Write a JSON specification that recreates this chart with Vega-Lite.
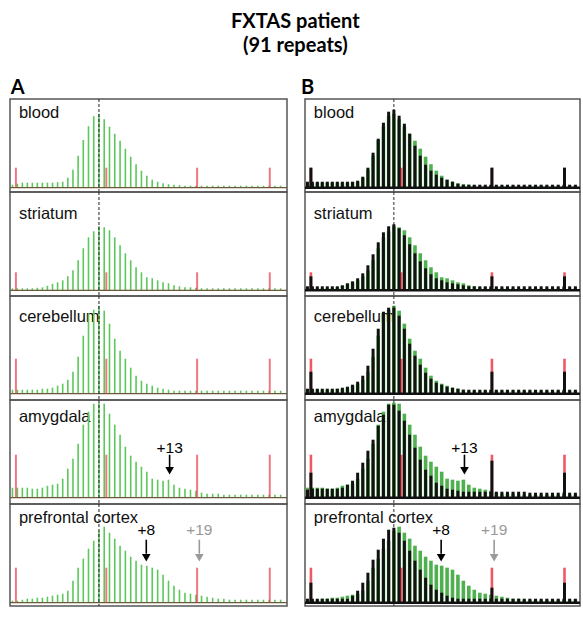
{
"$schema": "https://vega.github.io/schema/vega-lite/v6.json",
"padding": {"left": 8, "top": 11, "right": 8, "bottom": 11},
"title": {"text": ["FXTAS patient", "(91 repeats)"], "font": "Lato", "fontSize": 20, "fontWeight": "bold", "lineHeight": 24, "anchor": "middle", "offset": 22, "color": "#000"},
"config": {"view": {"stroke": "#555", "strokeWidth": 1.5}, "concat": {"spacing": 0}, "text": {"font": "Liberation Sans"}},
"datasets": {
"mode": [{"r": 91, "h": 0}],
"green": [
{"r":74,"blood":3,"striatum":2,"cerebellum":4,"amygdala":10,"prefrontal":2},
{"r":75,"blood":4,"striatum":2,"cerebellum":4,"amygdala":10,"prefrontal":2},
{"r":76,"blood":5,"striatum":2,"cerebellum":4,"amygdala":10,"prefrontal":3},
{"r":77,"blood":5,"striatum":2,"cerebellum":4,"amygdala":10,"prefrontal":4},
{"r":78,"blood":5,"striatum":2,"cerebellum":4,"amygdala":9,"prefrontal":4},
{"r":79,"blood":5,"striatum":2.5,"cerebellum":4,"amygdala":9,"prefrontal":5},
{"r":80,"blood":5,"striatum":3,"cerebellum":5,"amygdala":10,"prefrontal":5},
{"r":81,"blood":5,"striatum":4.5,"cerebellum":5,"amygdala":12,"prefrontal":6},
{"r":82,"blood":5,"striatum":6.5,"cerebellum":6,"amygdala":13,"prefrontal":7},
{"r":83,"blood":5.5,"striatum":8,"cerebellum":8,"amygdala":14,"prefrontal":8},
{"r":84,"blood":6,"striatum":10,"cerebellum":10,"amygdala":19,"prefrontal":9},
{"r":85,"blood":10,"striatum":14,"cerebellum":14,"amygdala":29,"prefrontal":12},
{"r":86,"blood":18,"striatum":20,"cerebellum":22,"amygdala":39,"prefrontal":22},
{"r":87,"blood":32,"striatum":30,"cerebellum":37,"amygdala":54,"prefrontal":35},
{"r":88,"blood":47.7,"striatum":42,"cerebellum":58,"amygdala":73,"prefrontal":44},
{"r":89,"blood":61.5,"striatum":53,"cerebellum":80,"amygdala":86,"prefrontal":54},
{"r":90,"blood":71.5,"striatum":59,"cerebellum":84,"amygdala":94,"prefrontal":62},
{"r":91,"blood":74,"striatum":64,"cerebellum":88,"amygdala":95,"prefrontal":72},
{"r":92,"blood":68.5,"striatum":63,"cerebellum":83,"amygdala":94,"prefrontal":76},
{"r":93,"blood":61,"striatum":60,"cerebellum":70,"amygdala":84,"prefrontal":70},
{"r":94,"blood":54,"striatum":53,"cerebellum":55,"amygdala":73,"prefrontal":64},
{"r":95,"blood":47,"striatum":45,"cerebellum":43,"amygdala":63,"prefrontal":57},
{"r":96,"blood":39,"striatum":37,"cerebellum":35,"amygdala":51,"prefrontal":52},
{"r":97,"blood":31,"striatum":30,"cerebellum":26,"amygdala":42,"prefrontal":46},
{"r":98,"blood":23.5,"striatum":23,"cerebellum":18,"amygdala":36,"prefrontal":42},
{"r":99,"blood":17,"striatum":18,"cerebellum":13,"amygdala":31,"prefrontal":38},
{"r":100,"blood":12,"striatum":13,"cerebellum":10,"amygdala":26,"prefrontal":37},
{"r":101,"blood":8,"striatum":12,"cerebellum":8,"amygdala":19,"prefrontal":35},
{"r":102,"blood":6,"striatum":10,"cerebellum":6,"amygdala":18,"prefrontal":33},
{"r":103,"blood":4.5,"striatum":8,"cerebellum":5,"amygdala":17,"prefrontal":28},
{"r":104,"blood":3.5,"striatum":7,"cerebellum":4,"amygdala":18,"prefrontal":22},
{"r":105,"blood":3,"striatum":5,"cerebellum":3,"amygdala":13,"prefrontal":17},
{"r":106,"blood":2.5,"striatum":4,"cerebellum":3,"amygdala":10,"prefrontal":13},
{"r":107,"blood":2,"striatum":3,"cerebellum":3,"amygdala":9,"prefrontal":10},
{"r":108,"blood":2,"striatum":3,"cerebellum":3,"amygdala":8,"prefrontal":9},
{"r":109,"blood":2,"striatum":2.5,"cerebellum":3,"amygdala":7,"prefrontal":8},
{"r":110,"blood":2,"striatum":2,"cerebellum":3,"amygdala":5,"prefrontal":7},
{"r":111,"blood":2,"striatum":2,"cerebellum":3,"amygdala":4,"prefrontal":6},
{"r":112,"blood":2,"striatum":2,"cerebellum":3,"amygdala":4,"prefrontal":5},
{"r":113,"blood":2,"striatum":2,"cerebellum":3,"amygdala":4,"prefrontal":4},
{"r":114,"blood":2,"striatum":2,"cerebellum":3,"amygdala":3,"prefrontal":4},
{"r":115,"blood":2,"striatum":2,"cerebellum":3,"amygdala":3,"prefrontal":3},
{"r":116,"blood":2,"striatum":2,"cerebellum":3,"amygdala":3,"prefrontal":3},
{"r":117,"blood":2,"striatum":2,"cerebellum":3,"amygdala":3,"prefrontal":3},
{"r":118,"blood":2,"striatum":2,"cerebellum":3,"amygdala":3,"prefrontal":3},
{"r":119,"blood":2,"striatum":2,"cerebellum":3,"amygdala":3,"prefrontal":3},
{"r":120,"blood":2,"striatum":2,"cerebellum":3,"amygdala":3,"prefrontal":3},
{"r":121,"blood":2,"striatum":2,"cerebellum":3,"amygdala":3,"prefrontal":3},
{"r":122,"blood":2,"striatum":2,"cerebellum":3,"amygdala":3,"prefrontal":3},
{"r":123,"blood":2,"striatum":2,"cerebellum":3,"amygdala":3,"prefrontal":3},
{"r":124,"blood":2,"striatum":2,"cerebellum":3,"amygdala":3,"prefrontal":3}
],
"black": [
{"r":74,"blood":6,"striatum":4,"cerebellum":5,"amygdala":8,"prefrontal":4},
{"r":75,"blood":6,"striatum":4,"cerebellum":5,"amygdala":9,"prefrontal":4},
{"r":76,"blood":6,"striatum":4,"cerebellum":5,"amygdala":9,"prefrontal":4},
{"r":77,"blood":6,"striatum":4,"cerebellum":5,"amygdala":9,"prefrontal":4},
{"r":78,"blood":6,"striatum":4,"cerebellum":5,"amygdala":9,"prefrontal":4},
{"r":79,"blood":6,"striatum":4,"cerebellum":5,"amygdala":9,"prefrontal":4},
{"r":80,"blood":6,"striatum":4,"cerebellum":5,"amygdala":9,"prefrontal":4},
{"r":81,"blood":6,"striatum":5,"cerebellum":6,"amygdala":10,"prefrontal":4},
{"r":82,"blood":6,"striatum":7,"cerebellum":7,"amygdala":13,"prefrontal":4},
{"r":83,"blood":6,"striatum":9,"cerebellum":9,"amygdala":17,"prefrontal":7},
{"r":84,"blood":7,"striatum":12,"cerebellum":12,"amygdala":25,"prefrontal":12},
{"r":85,"blood":11,"striatum":17,"cerebellum":18,"amygdala":35,"prefrontal":20},
{"r":86,"blood":20,"striatum":25,"cerebellum":28,"amygdala":47,"prefrontal":30},
{"r":87,"blood":35,"striatum":36,"cerebellum":45,"amygdala":58,"prefrontal":43},
{"r":88,"blood":49,"striatum":48,"cerebellum":65,"amygdala":72,"prefrontal":53},
{"r":89,"blood":65,"striatum":58,"cerebellum":82,"amygdala":83,"prefrontal":64},
{"r":90,"blood":76,"striatum":64,"cerebellum":86,"amygdala":93,"prefrontal":73},
{"r":91,"blood":78,"striatum":66,"cerebellum":86,"amygdala":93,"prefrontal":75},
{"r":92,"blood":72,"striatum":62,"cerebellum":78,"amygdala":87,"prefrontal":70},
{"r":93,"blood":64,"striatum":55,"cerebellum":65,"amygdala":77,"prefrontal":62},
{"r":94,"blood":54,"striatum":46,"cerebellum":50,"amygdala":63,"prefrontal":52},
{"r":95,"blood":42,"striatum":37,"cerebellum":38,"amygdala":50,"prefrontal":42},
{"r":96,"blood":32,"striatum":29,"cerebellum":29,"amygdala":38,"prefrontal":33},
{"r":97,"blood":23,"striatum":22,"cerebellum":21,"amygdala":28,"prefrontal":25},
{"r":98,"blood":17,"striatum":16,"cerebellum":15,"amygdala":22,"prefrontal":18},
{"r":99,"blood":13,"striatum":12,"cerebellum":11,"amygdala":15,"prefrontal":13},
{"r":100,"blood":10,"striatum":10,"cerebellum":9,"amygdala":12,"prefrontal":10},
{"r":101,"blood":8,"striatum":8,"cerebellum":7,"amygdala":9,"prefrontal":7},
{"r":102,"blood":6,"striatum":7,"cerebellum":6,"amygdala":8,"prefrontal":5},
{"r":103,"blood":4,"striatum":6,"cerebellum":5,"amygdala":7,"prefrontal":4},
{"r":104,"blood":3,"striatum":5,"cerebellum":4,"amygdala":6,"prefrontal":4},
{"r":105,"blood":3,"striatum":4,"cerebellum":4,"amygdala":6,"prefrontal":4},
{"r":106,"blood":3,"striatum":4,"cerebellum":4,"amygdala":6,"prefrontal":4},
{"r":107,"blood":3,"striatum":4,"cerebellum":4,"amygdala":6,"prefrontal":4},
{"r":108,"blood":3,"striatum":4,"cerebellum":4,"amygdala":6,"prefrontal":4},
{"r":109,"blood":3,"striatum":4,"cerebellum":4,"amygdala":6,"prefrontal":4},
{"r":110,"blood":3,"striatum":4,"cerebellum":4,"amygdala":6,"prefrontal":4},
{"r":111,"blood":3,"striatum":4,"cerebellum":4,"amygdala":6,"prefrontal":4},
{"r":112,"blood":3,"striatum":4,"cerebellum":4,"amygdala":6,"prefrontal":4},
{"r":113,"blood":3,"striatum":4,"cerebellum":4,"amygdala":6,"prefrontal":4},
{"r":114,"blood":3,"striatum":4,"cerebellum":4,"amygdala":6,"prefrontal":4},
{"r":115,"blood":3,"striatum":4,"cerebellum":4,"amygdala":6,"prefrontal":4},
{"r":116,"blood":3,"striatum":4,"cerebellum":4,"amygdala":5,"prefrontal":4},
{"r":117,"blood":3,"striatum":4,"cerebellum":4,"amygdala":5,"prefrontal":4},
{"r":118,"blood":3,"striatum":4,"cerebellum":4,"amygdala":5,"prefrontal":4},
{"r":119,"blood":3,"striatum":4,"cerebellum":4,"amygdala":5,"prefrontal":4},
{"r":120,"blood":3,"striatum":4,"cerebellum":4,"amygdala":5,"prefrontal":4},
{"r":121,"blood":3,"striatum":4,"cerebellum":4,"amygdala":5,"prefrontal":4},
{"r":122,"blood":3,"striatum":4,"cerebellum":4,"amygdala":5,"prefrontal":4},
{"r":123,"blood":3,"striatum":4,"cerebellum":4,"amygdala":5,"prefrontal":4},
{"r":124,"blood":3,"striatum":4,"cerebellum":4,"amygdala":5,"prefrontal":4},
{"r":74.7,"blood":20,"striatum":14,"cerebellum":22,"amygdala":25,"prefrontal":20},
{"r":109.2,"blood":20,"striatum":14,"cerebellum":22,"amygdala":37,"prefrontal":15},
{"r":122.1,"blood":20,"striatum":14,"cerebellum":22,"amygdala":25,"prefrontal":20}
],
"std": [
{"r":74.7,"blood":20,"striatum":18,"cerebellum":35,"amygdala":43,"prefrontal":35},
{"r":92.4,"blood":20,"striatum":18,"cerebellum":35,"amygdala":43,"prefrontal":35},
{"r":109.2,"blood":20,"striatum":18,"cerebellum":35,"amygdala":43,"prefrontal":35},
{"r":122.1,"blood":20,"striatum":18,"cerebellum":35,"amygdala":43,"prefrontal":35}
],
"labels": [
{"t":"blood","label":"blood","r":75.3,"y":70},
{"t":"striatum","label":"striatum","r":75.3,"y":71.6},
{"t":"cerebellum","label":"cerebellum","r":75.3,"y":71.7},
{"t":"amygdala","label":"amygdala","r":75.3,"y":76},
{"t":"prefrontal","label":"prefrontal cortex","r":75.3,"y":79.7}
],
"arrows": [
{"t":"amygdala","r":104.2,"kind":"observed","txt":"+13","ty":44.7,"top":43,"end":29,"head":27},
{"t":"prefrontal","r":99.9,"kind":"observed","txt":"+8","ty":67.7,"top":63,"end":49,"head":45},
{"t":"prefrontal","r":109.6,"kind":"predicted","txt":"+19","ty":67.7,"top":63,"end":49,"head":45}
]
},
"spacing": 12,
"hconcat": [
{"title": {"text": "A", "anchor": "start", "font": "Lato", "fontSize": 20, "fontWeight": "bold", "offset": 0, "dx": 2, "color": "#000"},
 "bounds": "flush", "spacing": 0,
 "vconcat": [
  {"width": 277, "height": 93, "layer": [
   {"data": {"name": "labels"}, "transform": [{"filter": "datum.t == 'blood'"}], "mark": {"type": "text", "align": "left", "baseline": "alphabetic", "fontSize": 16.5, "color": "#111"}, "encoding": {"x": {"field": "r", "type": "quantitative", "scale": {"type": "pow", "exponent": 1.3, "domain": [73.5, 125.1]}, "axis": null}, "y": {"field": "y", "type": "quantitative", "scale": {"domain": [-4.3, 88.7]}, "axis": null}, "text": {"field": "label"}}},
   {"data": {"name": "green"}, "transform": [{"fold": ["blood"], "as": ["t", "h"]}], "mark": {"type": "rule", "color": "#5cc85c", "strokeWidth": 1.6}, "encoding": {"x": {"field": "r", "type": "quantitative", "scale": {"type": "pow", "exponent": 1.3, "domain": [73.5, 125.1]}, "axis": null}, "y": {"field": "h", "type": "quantitative", "scale": {"domain": [-4.3, 88.7]}, "axis": null}, "y2": {"datum": 0}}},
   {"data": {"name": "mode"}, "mark": {"type": "rule", "color": "#6b5a3a", "strokeWidth": 1.2}, "encoding": {"y": {"field": "h", "type": "quantitative", "scale": {"domain": [-4.3, 88.7]}, "axis": null}}},
   {"data": {"name": "std"}, "transform": [{"fold": ["blood"], "as": ["t", "h"]}], "mark": {"type": "rule", "color": "#e8303f", "opacity": 0.65, "strokeWidth": 2}, "encoding": {"x": {"field": "r", "type": "quantitative", "scale": {"type": "pow", "exponent": 1.3, "domain": [73.5, 125.1]}, "axis": null}, "y": {"field": "h", "type": "quantitative", "scale": {"domain": [-4.3, 88.7]}, "axis": null}, "y2": {"datum": 0}}},
   {"data": {"name": "mode"}, "mark": {"type": "rule", "color": "#222", "strokeWidth": 1, "strokeDash": [3, 2]}, "encoding": {"x": {"field": "r", "type": "quantitative", "scale": {"type": "pow", "exponent": 1.3, "domain": [73.5, 125.1]}, "axis": null}}}
  ]},
  {"width": 277, "height": 104, "layer": [
   {"data": {"name": "labels"}, "transform": [{"filter": "datum.t == 'striatum'"}], "mark": {"type": "text", "align": "left", "baseline": "alphabetic", "fontSize": 16.5, "color": "#111"}, "encoding": {"x": {"field": "r", "type": "quantitative", "scale": {"type": "pow", "exponent": 1.3, "domain": [73.5, 125.1]}, "axis": null}, "y": {"field": "y", "type": "quantitative", "scale": {"domain": [-5.7, 98.3]}, "axis": null}, "text": {"field": "label"}}},
   {"data": {"name": "green"}, "transform": [{"fold": ["striatum"], "as": ["t", "h"]}], "mark": {"type": "rule", "color": "#5cc85c", "strokeWidth": 1.6}, "encoding": {"x": {"field": "r", "type": "quantitative", "scale": {"type": "pow", "exponent": 1.3, "domain": [73.5, 125.1]}, "axis": null}, "y": {"field": "h", "type": "quantitative", "scale": {"domain": [-5.7, 98.3]}, "axis": null}, "y2": {"datum": 0}}},
   {"data": {"name": "mode"}, "mark": {"type": "rule", "color": "#6b5a3a", "strokeWidth": 1.2}, "encoding": {"y": {"field": "h", "type": "quantitative", "scale": {"domain": [-5.7, 98.3]}, "axis": null}}},
   {"data": {"name": "std"}, "transform": [{"fold": ["striatum"], "as": ["t", "h"]}], "mark": {"type": "rule", "color": "#e8303f", "opacity": 0.65, "strokeWidth": 2}, "encoding": {"x": {"field": "r", "type": "quantitative", "scale": {"type": "pow", "exponent": 1.3, "domain": [73.5, 125.1]}, "axis": null}, "y": {"field": "h", "type": "quantitative", "scale": {"domain": [-5.7, 98.3]}, "axis": null}, "y2": {"datum": 0}}},
   {"data": {"name": "mode"}, "mark": {"type": "rule", "color": "#222", "strokeWidth": 1, "strokeDash": [3, 2]}, "encoding": {"x": {"field": "r", "type": "quantitative", "scale": {"type": "pow", "exponent": 1.3, "domain": [73.5, 125.1]}, "axis": null}}}
  ]},
  {"width": 277, "height": 104, "layer": [
   {"data": {"name": "labels"}, "transform": [{"filter": "datum.t == 'cerebellum'"}], "mark": {"type": "text", "align": "left", "baseline": "alphabetic", "fontSize": 16.5, "color": "#111"}, "encoding": {"x": {"field": "r", "type": "quantitative", "scale": {"type": "pow", "exponent": 1.3, "domain": [73.5, 125.1]}, "axis": null}, "y": {"field": "y", "type": "quantitative", "scale": {"domain": [-6.3, 97.7]}, "axis": null}, "text": {"field": "label"}}},
   {"data": {"name": "green"}, "transform": [{"fold": ["cerebellum"], "as": ["t", "h"]}], "mark": {"type": "rule", "color": "#5cc85c", "strokeWidth": 1.6}, "encoding": {"x": {"field": "r", "type": "quantitative", "scale": {"type": "pow", "exponent": 1.3, "domain": [73.5, 125.1]}, "axis": null}, "y": {"field": "h", "type": "quantitative", "scale": {"domain": [-6.3, 97.7]}, "axis": null}, "y2": {"datum": 0}}},
   {"data": {"name": "mode"}, "mark": {"type": "rule", "color": "#6b5a3a", "strokeWidth": 1.2}, "encoding": {"y": {"field": "h", "type": "quantitative", "scale": {"domain": [-6.3, 97.7]}, "axis": null}}},
   {"data": {"name": "std"}, "transform": [{"fold": ["cerebellum"], "as": ["t", "h"]}], "mark": {"type": "rule", "color": "#e8303f", "opacity": 0.65, "strokeWidth": 2}, "encoding": {"x": {"field": "r", "type": "quantitative", "scale": {"type": "pow", "exponent": 1.3, "domain": [73.5, 125.1]}, "axis": null}, "y": {"field": "h", "type": "quantitative", "scale": {"domain": [-6.3, 97.7]}, "axis": null}, "y2": {"datum": 0}}},
   {"data": {"name": "mode"}, "mark": {"type": "rule", "color": "#222", "strokeWidth": 1, "strokeDash": [3, 2]}, "encoding": {"x": {"field": "r", "type": "quantitative", "scale": {"type": "pow", "exponent": 1.3, "domain": [73.5, 125.1]}, "axis": null}}}
  ]},
  {"width": 277, "height": 104, "layer": [
   {"data": {"name": "labels"}, "transform": [{"filter": "datum.t == 'amygdala'"}], "mark": {"type": "text", "align": "left", "baseline": "alphabetic", "fontSize": 16.5, "color": "#111"}, "encoding": {"x": {"field": "r", "type": "quantitative", "scale": {"type": "pow", "exponent": 1.3, "domain": [73.5, 125.1]}, "axis": null}, "y": {"field": "y", "type": "quantitative", "scale": {"domain": [-6.3, 97.7]}, "axis": null}, "text": {"field": "label"}}},
   {"data": {"name": "green"}, "transform": [{"fold": ["amygdala"], "as": ["t", "h"]}], "mark": {"type": "rule", "color": "#5cc85c", "strokeWidth": 1.6}, "encoding": {"x": {"field": "r", "type": "quantitative", "scale": {"type": "pow", "exponent": 1.3, "domain": [73.5, 125.1]}, "axis": null}, "y": {"field": "h", "type": "quantitative", "scale": {"domain": [-6.3, 97.7]}, "axis": null}, "y2": {"datum": 0}}},
   {"data": {"name": "mode"}, "mark": {"type": "rule", "color": "#6b5a3a", "strokeWidth": 1.2}, "encoding": {"y": {"field": "h", "type": "quantitative", "scale": {"domain": [-6.3, 97.7]}, "axis": null}}},
   {"data": {"name": "std"}, "transform": [{"fold": ["amygdala"], "as": ["t", "h"]}], "mark": {"type": "rule", "color": "#e8303f", "opacity": 0.65, "strokeWidth": 2}, "encoding": {"x": {"field": "r", "type": "quantitative", "scale": {"type": "pow", "exponent": 1.3, "domain": [73.5, 125.1]}, "axis": null}, "y": {"field": "h", "type": "quantitative", "scale": {"domain": [-6.3, 97.7]}, "axis": null}, "y2": {"datum": 0}}},
   {"data": {"name": "mode"}, "mark": {"type": "rule", "color": "#222", "strokeWidth": 1, "strokeDash": [3, 2]}, "encoding": {"x": {"field": "r", "type": "quantitative", "scale": {"type": "pow", "exponent": 1.3, "domain": [73.5, 125.1]}, "axis": null}}},
   {"data": {"name": "arrows"}, "transform": [{"filter": "datum.t == 'amygdala'"}], "mark": {"type": "rule", "strokeWidth": 1.6}, "encoding": {"x": {"field": "r", "type": "quantitative", "scale": {"type": "pow", "exponent": 1.3, "domain": [73.5, 125.1]}, "axis": null}, "y": {"field": "top", "type": "quantitative", "scale": {"domain": [-6.3, 97.7]}, "axis": null}, "y2": {"field": "end"}, "color": {"field": "kind", "type": "nominal", "scale": {"domain": ["observed", "predicted"], "range": ["#000000", "#999999"]}, "legend": null}}},
   {"data": {"name": "arrows"}, "transform": [{"filter": "datum.t == 'amygdala'"}], "mark": {"type": "point", "shape": "triangle-down", "filled": true, "opacity": 1, "size": 75}, "encoding": {"x": {"field": "r", "type": "quantitative", "scale": {"type": "pow", "exponent": 1.3, "domain": [73.5, 125.1]}, "axis": null}, "y": {"field": "head", "type": "quantitative", "scale": {"domain": [-6.3, 97.7]}, "axis": null}, "color": {"field": "kind", "type": "nominal", "scale": {"domain": ["observed", "predicted"], "range": ["#000000", "#999999"]}, "legend": null}}},
   {"data": {"name": "arrows"}, "transform": [{"filter": "datum.t == 'amygdala'"}], "mark": {"type": "text", "align": "center", "baseline": "alphabetic", "fontSize": 15.5}, "encoding": {"x": {"field": "r", "type": "quantitative", "scale": {"type": "pow", "exponent": 1.3, "domain": [73.5, 125.1]}, "axis": null}, "y": {"field": "ty", "type": "quantitative", "scale": {"domain": [-6.3, 97.7]}, "axis": null}, "text": {"field": "txt"}, "color": {"field": "kind", "type": "nominal", "scale": {"domain": ["observed", "predicted"], "range": ["#000000", "#999999"]}, "legend": null}}}
  ]},
  {"width": 277, "height": 102, "layer": [
   {"data": {"name": "labels"}, "transform": [{"filter": "datum.t == 'prefrontal'"}], "mark": {"type": "text", "align": "left", "baseline": "alphabetic", "fontSize": 16.5, "color": "#111"}, "encoding": {"x": {"field": "r", "type": "quantitative", "scale": {"type": "pow", "exponent": 1.3, "domain": [73.5, 125.1]}, "axis": null}, "y": {"field": "y", "type": "quantitative", "scale": {"domain": [-3.3, 98.7]}, "axis": null}, "text": {"field": "label"}}},
   {"data": {"name": "green"}, "transform": [{"fold": ["prefrontal"], "as": ["t", "h"]}], "mark": {"type": "rule", "color": "#5cc85c", "strokeWidth": 1.6}, "encoding": {"x": {"field": "r", "type": "quantitative", "scale": {"type": "pow", "exponent": 1.3, "domain": [73.5, 125.1]}, "axis": null}, "y": {"field": "h", "type": "quantitative", "scale": {"domain": [-3.3, 98.7]}, "axis": null}, "y2": {"datum": 0}}},
   {"data": {"name": "mode"}, "mark": {"type": "rule", "color": "#6b5a3a", "strokeWidth": 1.2}, "encoding": {"y": {"field": "h", "type": "quantitative", "scale": {"domain": [-3.3, 98.7]}, "axis": null}}},
   {"data": {"name": "std"}, "transform": [{"fold": ["prefrontal"], "as": ["t", "h"]}], "mark": {"type": "rule", "color": "#e8303f", "opacity": 0.65, "strokeWidth": 2}, "encoding": {"x": {"field": "r", "type": "quantitative", "scale": {"type": "pow", "exponent": 1.3, "domain": [73.5, 125.1]}, "axis": null}, "y": {"field": "h", "type": "quantitative", "scale": {"domain": [-3.3, 98.7]}, "axis": null}, "y2": {"datum": 0}}},
   {"data": {"name": "mode"}, "mark": {"type": "rule", "color": "#222", "strokeWidth": 1, "strokeDash": [3, 2]}, "encoding": {"x": {"field": "r", "type": "quantitative", "scale": {"type": "pow", "exponent": 1.3, "domain": [73.5, 125.1]}, "axis": null}}},
   {"data": {"name": "arrows"}, "transform": [{"filter": "datum.t == 'prefrontal'"}], "mark": {"type": "rule", "strokeWidth": 1.6}, "encoding": {"x": {"field": "r", "type": "quantitative", "scale": {"type": "pow", "exponent": 1.3, "domain": [73.5, 125.1]}, "axis": null}, "y": {"field": "top", "type": "quantitative", "scale": {"domain": [-3.3, 98.7]}, "axis": null}, "y2": {"field": "end"}, "color": {"field": "kind", "type": "nominal", "scale": {"domain": ["observed", "predicted"], "range": ["#000000", "#999999"]}, "legend": null}}},
   {"data": {"name": "arrows"}, "transform": [{"filter": "datum.t == 'prefrontal'"}], "mark": {"type": "point", "shape": "triangle-down", "filled": true, "opacity": 1, "size": 75}, "encoding": {"x": {"field": "r", "type": "quantitative", "scale": {"type": "pow", "exponent": 1.3, "domain": [73.5, 125.1]}, "axis": null}, "y": {"field": "head", "type": "quantitative", "scale": {"domain": [-3.3, 98.7]}, "axis": null}, "color": {"field": "kind", "type": "nominal", "scale": {"domain": ["observed", "predicted"], "range": ["#000000", "#999999"]}, "legend": null}}},
   {"data": {"name": "arrows"}, "transform": [{"filter": "datum.t == 'prefrontal'"}], "mark": {"type": "text", "align": "center", "baseline": "alphabetic", "fontSize": 15.5}, "encoding": {"x": {"field": "r", "type": "quantitative", "scale": {"type": "pow", "exponent": 1.3, "domain": [73.5, 125.1]}, "axis": null}, "y": {"field": "ty", "type": "quantitative", "scale": {"domain": [-3.3, 98.7]}, "axis": null}, "text": {"field": "txt"}, "color": {"field": "kind", "type": "nominal", "scale": {"domain": ["observed", "predicted"], "range": ["#000000", "#999999"]}, "legend": null}}}
  ]}
 ]},
{"title": {"text": "B", "anchor": "start", "font": "Lato", "fontSize": 20, "fontWeight": "bold", "offset": 0, "dx": -2, "color": "#000"},
 "bounds": "flush", "spacing": 0,
 "vconcat": [
  {"width": 275, "height": 93, "layer": [
   {"data": {"name": "labels"}, "transform": [{"filter": "datum.t == 'blood'"}], "mark": {"type": "text", "align": "left", "baseline": "alphabetic", "fontSize": 16.5, "color": "#111"}, "encoding": {"x": {"field": "r", "type": "quantitative", "scale": {"type": "pow", "exponent": 1.3, "domain": [73.5, 124.8]}, "axis": null}, "y": {"field": "y", "type": "quantitative", "scale": {"domain": [-4.3, 88.7]}, "axis": null}, "text": {"field": "label"}}},
   {"data": {"name": "green"}, "transform": [{"fold": ["blood"], "as": ["t", "h"]}], "mark": {"type": "rule", "color": "#4fb04f", "strokeWidth": 3.6}, "encoding": {"x": {"field": "r", "type": "quantitative", "scale": {"type": "pow", "exponent": 1.3, "domain": [73.5, 124.8]}, "axis": null}, "y": {"field": "h", "type": "quantitative", "scale": {"domain": [-4.3, 88.7]}, "axis": null}, "y2": {"datum": 0}}},
   {"data": {"name": "mode"}, "mark": {"type": "rule", "color": "#333", "strokeWidth": 1, "strokeDash": [3, 2]}, "encoding": {"x": {"field": "r", "type": "quantitative", "scale": {"type": "pow", "exponent": 1.3, "domain": [73.5, 124.8]}, "axis": null}}},
   {"data": {"name": "std"}, "transform": [{"fold": ["blood"], "as": ["t", "h"]}], "mark": {"type": "rule", "color": "#e8303f", "opacity": 0.8, "strokeWidth": 2.6}, "encoding": {"x": {"field": "r", "type": "quantitative", "scale": {"type": "pow", "exponent": 1.3, "domain": [73.5, 124.8]}, "axis": null}, "y": {"field": "h", "type": "quantitative", "scale": {"domain": [-4.3, 88.7]}, "axis": null}, "y2": {"datum": 0}}},
   {"data": {"name": "black"}, "transform": [{"fold": ["blood"], "as": ["t", "h"]}], "mark": {"type": "rule", "color": "#111", "strokeWidth": 3}, "encoding": {"x": {"field": "r", "type": "quantitative", "scale": {"type": "pow", "exponent": 1.3, "domain": [73.5, 124.8]}, "axis": null}, "y": {"field": "h", "type": "quantitative", "scale": {"domain": [-4.3, 88.7]}, "axis": null}, "y2": {"datum": 0}}},
   {"data": {"name": "mode"}, "mark": {"type": "rule", "color": "#111", "strokeWidth": 2.4}, "encoding": {"y": {"field": "h", "type": "quantitative", "scale": {"domain": [-4.3, 88.7]}, "axis": null}}}
  ]},
  {"width": 275, "height": 104, "layer": [
   {"data": {"name": "labels"}, "transform": [{"filter": "datum.t == 'striatum'"}], "mark": {"type": "text", "align": "left", "baseline": "alphabetic", "fontSize": 16.5, "color": "#111"}, "encoding": {"x": {"field": "r", "type": "quantitative", "scale": {"type": "pow", "exponent": 1.3, "domain": [73.5, 124.8]}, "axis": null}, "y": {"field": "y", "type": "quantitative", "scale": {"domain": [-5.7, 98.3]}, "axis": null}, "text": {"field": "label"}}},
   {"data": {"name": "green"}, "transform": [{"fold": ["striatum"], "as": ["t", "h"]}], "mark": {"type": "rule", "color": "#4fb04f", "strokeWidth": 3.6}, "encoding": {"x": {"field": "r", "type": "quantitative", "scale": {"type": "pow", "exponent": 1.3, "domain": [73.5, 124.8]}, "axis": null}, "y": {"field": "h", "type": "quantitative", "scale": {"domain": [-5.7, 98.3]}, "axis": null}, "y2": {"datum": 0}}},
   {"data": {"name": "mode"}, "mark": {"type": "rule", "color": "#333", "strokeWidth": 1, "strokeDash": [3, 2]}, "encoding": {"x": {"field": "r", "type": "quantitative", "scale": {"type": "pow", "exponent": 1.3, "domain": [73.5, 124.8]}, "axis": null}}},
   {"data": {"name": "std"}, "transform": [{"fold": ["striatum"], "as": ["t", "h"]}], "mark": {"type": "rule", "color": "#e8303f", "opacity": 0.8, "strokeWidth": 2.6}, "encoding": {"x": {"field": "r", "type": "quantitative", "scale": {"type": "pow", "exponent": 1.3, "domain": [73.5, 124.8]}, "axis": null}, "y": {"field": "h", "type": "quantitative", "scale": {"domain": [-5.7, 98.3]}, "axis": null}, "y2": {"datum": 0}}},
   {"data": {"name": "black"}, "transform": [{"fold": ["striatum"], "as": ["t", "h"]}], "mark": {"type": "rule", "color": "#111", "strokeWidth": 3}, "encoding": {"x": {"field": "r", "type": "quantitative", "scale": {"type": "pow", "exponent": 1.3, "domain": [73.5, 124.8]}, "axis": null}, "y": {"field": "h", "type": "quantitative", "scale": {"domain": [-5.7, 98.3]}, "axis": null}, "y2": {"datum": 0}}},
   {"data": {"name": "mode"}, "mark": {"type": "rule", "color": "#111", "strokeWidth": 2.4}, "encoding": {"y": {"field": "h", "type": "quantitative", "scale": {"domain": [-5.7, 98.3]}, "axis": null}}}
  ]},
  {"width": 275, "height": 104, "layer": [
   {"data": {"name": "labels"}, "transform": [{"filter": "datum.t == 'cerebellum'"}], "mark": {"type": "text", "align": "left", "baseline": "alphabetic", "fontSize": 16.5, "color": "#111"}, "encoding": {"x": {"field": "r", "type": "quantitative", "scale": {"type": "pow", "exponent": 1.3, "domain": [73.5, 124.8]}, "axis": null}, "y": {"field": "y", "type": "quantitative", "scale": {"domain": [-6.3, 97.7]}, "axis": null}, "text": {"field": "label"}}},
   {"data": {"name": "green"}, "transform": [{"fold": ["cerebellum"], "as": ["t", "h"]}], "mark": {"type": "rule", "color": "#4fb04f", "strokeWidth": 3.6}, "encoding": {"x": {"field": "r", "type": "quantitative", "scale": {"type": "pow", "exponent": 1.3, "domain": [73.5, 124.8]}, "axis": null}, "y": {"field": "h", "type": "quantitative", "scale": {"domain": [-6.3, 97.7]}, "axis": null}, "y2": {"datum": 0}}},
   {"data": {"name": "mode"}, "mark": {"type": "rule", "color": "#333", "strokeWidth": 1, "strokeDash": [3, 2]}, "encoding": {"x": {"field": "r", "type": "quantitative", "scale": {"type": "pow", "exponent": 1.3, "domain": [73.5, 124.8]}, "axis": null}}},
   {"data": {"name": "std"}, "transform": [{"fold": ["cerebellum"], "as": ["t", "h"]}], "mark": {"type": "rule", "color": "#e8303f", "opacity": 0.8, "strokeWidth": 2.6}, "encoding": {"x": {"field": "r", "type": "quantitative", "scale": {"type": "pow", "exponent": 1.3, "domain": [73.5, 124.8]}, "axis": null}, "y": {"field": "h", "type": "quantitative", "scale": {"domain": [-6.3, 97.7]}, "axis": null}, "y2": {"datum": 0}}},
   {"data": {"name": "black"}, "transform": [{"fold": ["cerebellum"], "as": ["t", "h"]}], "mark": {"type": "rule", "color": "#111", "strokeWidth": 3}, "encoding": {"x": {"field": "r", "type": "quantitative", "scale": {"type": "pow", "exponent": 1.3, "domain": [73.5, 124.8]}, "axis": null}, "y": {"field": "h", "type": "quantitative", "scale": {"domain": [-6.3, 97.7]}, "axis": null}, "y2": {"datum": 0}}},
   {"data": {"name": "mode"}, "mark": {"type": "rule", "color": "#111", "strokeWidth": 2.4}, "encoding": {"y": {"field": "h", "type": "quantitative", "scale": {"domain": [-6.3, 97.7]}, "axis": null}}}
  ]},
  {"width": 275, "height": 104, "layer": [
   {"data": {"name": "labels"}, "transform": [{"filter": "datum.t == 'amygdala'"}], "mark": {"type": "text", "align": "left", "baseline": "alphabetic", "fontSize": 16.5, "color": "#111"}, "encoding": {"x": {"field": "r", "type": "quantitative", "scale": {"type": "pow", "exponent": 1.3, "domain": [73.5, 124.8]}, "axis": null}, "y": {"field": "y", "type": "quantitative", "scale": {"domain": [-6.3, 97.7]}, "axis": null}, "text": {"field": "label"}}},
   {"data": {"name": "green"}, "transform": [{"fold": ["amygdala"], "as": ["t", "h"]}], "mark": {"type": "rule", "color": "#4fb04f", "strokeWidth": 3.6}, "encoding": {"x": {"field": "r", "type": "quantitative", "scale": {"type": "pow", "exponent": 1.3, "domain": [73.5, 124.8]}, "axis": null}, "y": {"field": "h", "type": "quantitative", "scale": {"domain": [-6.3, 97.7]}, "axis": null}, "y2": {"datum": 0}}},
   {"data": {"name": "mode"}, "mark": {"type": "rule", "color": "#333", "strokeWidth": 1, "strokeDash": [3, 2]}, "encoding": {"x": {"field": "r", "type": "quantitative", "scale": {"type": "pow", "exponent": 1.3, "domain": [73.5, 124.8]}, "axis": null}}},
   {"data": {"name": "std"}, "transform": [{"fold": ["amygdala"], "as": ["t", "h"]}], "mark": {"type": "rule", "color": "#e8303f", "opacity": 0.8, "strokeWidth": 2.6}, "encoding": {"x": {"field": "r", "type": "quantitative", "scale": {"type": "pow", "exponent": 1.3, "domain": [73.5, 124.8]}, "axis": null}, "y": {"field": "h", "type": "quantitative", "scale": {"domain": [-6.3, 97.7]}, "axis": null}, "y2": {"datum": 0}}},
   {"data": {"name": "black"}, "transform": [{"fold": ["amygdala"], "as": ["t", "h"]}], "mark": {"type": "rule", "color": "#111", "strokeWidth": 3}, "encoding": {"x": {"field": "r", "type": "quantitative", "scale": {"type": "pow", "exponent": 1.3, "domain": [73.5, 124.8]}, "axis": null}, "y": {"field": "h", "type": "quantitative", "scale": {"domain": [-6.3, 97.7]}, "axis": null}, "y2": {"datum": 0}}},
   {"data": {"name": "mode"}, "mark": {"type": "rule", "color": "#111", "strokeWidth": 2.4}, "encoding": {"y": {"field": "h", "type": "quantitative", "scale": {"domain": [-6.3, 97.7]}, "axis": null}}},
   {"data": {"name": "arrows"}, "transform": [{"filter": "datum.t == 'amygdala'"}], "mark": {"type": "rule", "strokeWidth": 1.6}, "encoding": {"x": {"field": "r", "type": "quantitative", "scale": {"type": "pow", "exponent": 1.3, "domain": [73.5, 124.8]}, "axis": null}, "y": {"field": "top", "type": "quantitative", "scale": {"domain": [-6.3, 97.7]}, "axis": null}, "y2": {"field": "end"}, "color": {"field": "kind", "type": "nominal", "scale": {"domain": ["observed", "predicted"], "range": ["#000000", "#999999"]}, "legend": null}}},
   {"data": {"name": "arrows"}, "transform": [{"filter": "datum.t == 'amygdala'"}], "mark": {"type": "point", "shape": "triangle-down", "filled": true, "opacity": 1, "size": 75}, "encoding": {"x": {"field": "r", "type": "quantitative", "scale": {"type": "pow", "exponent": 1.3, "domain": [73.5, 124.8]}, "axis": null}, "y": {"field": "head", "type": "quantitative", "scale": {"domain": [-6.3, 97.7]}, "axis": null}, "color": {"field": "kind", "type": "nominal", "scale": {"domain": ["observed", "predicted"], "range": ["#000000", "#999999"]}, "legend": null}}},
   {"data": {"name": "arrows"}, "transform": [{"filter": "datum.t == 'amygdala'"}], "mark": {"type": "text", "align": "center", "baseline": "alphabetic", "fontSize": 15.5}, "encoding": {"x": {"field": "r", "type": "quantitative", "scale": {"type": "pow", "exponent": 1.3, "domain": [73.5, 124.8]}, "axis": null}, "y": {"field": "ty", "type": "quantitative", "scale": {"domain": [-6.3, 97.7]}, "axis": null}, "text": {"field": "txt"}, "color": {"field": "kind", "type": "nominal", "scale": {"domain": ["observed", "predicted"], "range": ["#000000", "#999999"]}, "legend": null}}}
  ]},
  {"width": 275, "height": 102, "layer": [
   {"data": {"name": "labels"}, "transform": [{"filter": "datum.t == 'prefrontal'"}], "mark": {"type": "text", "align": "left", "baseline": "alphabetic", "fontSize": 16.5, "color": "#111"}, "encoding": {"x": {"field": "r", "type": "quantitative", "scale": {"type": "pow", "exponent": 1.3, "domain": [73.5, 124.8]}, "axis": null}, "y": {"field": "y", "type": "quantitative", "scale": {"domain": [-3.3, 98.7]}, "axis": null}, "text": {"field": "label"}}},
   {"data": {"name": "green"}, "transform": [{"fold": ["prefrontal"], "as": ["t", "h"]}], "mark": {"type": "rule", "color": "#4fb04f", "strokeWidth": 3.6}, "encoding": {"x": {"field": "r", "type": "quantitative", "scale": {"type": "pow", "exponent": 1.3, "domain": [73.5, 124.8]}, "axis": null}, "y": {"field": "h", "type": "quantitative", "scale": {"domain": [-3.3, 98.7]}, "axis": null}, "y2": {"datum": 0}}},
   {"data": {"name": "mode"}, "mark": {"type": "rule", "color": "#333", "strokeWidth": 1, "strokeDash": [3, 2]}, "encoding": {"x": {"field": "r", "type": "quantitative", "scale": {"type": "pow", "exponent": 1.3, "domain": [73.5, 124.8]}, "axis": null}}},
   {"data": {"name": "std"}, "transform": [{"fold": ["prefrontal"], "as": ["t", "h"]}], "mark": {"type": "rule", "color": "#e8303f", "opacity": 0.8, "strokeWidth": 2.6}, "encoding": {"x": {"field": "r", "type": "quantitative", "scale": {"type": "pow", "exponent": 1.3, "domain": [73.5, 124.8]}, "axis": null}, "y": {"field": "h", "type": "quantitative", "scale": {"domain": [-3.3, 98.7]}, "axis": null}, "y2": {"datum": 0}}},
   {"data": {"name": "black"}, "transform": [{"fold": ["prefrontal"], "as": ["t", "h"]}], "mark": {"type": "rule", "color": "#111", "strokeWidth": 3}, "encoding": {"x": {"field": "r", "type": "quantitative", "scale": {"type": "pow", "exponent": 1.3, "domain": [73.5, 124.8]}, "axis": null}, "y": {"field": "h", "type": "quantitative", "scale": {"domain": [-3.3, 98.7]}, "axis": null}, "y2": {"datum": 0}}},
   {"data": {"name": "mode"}, "mark": {"type": "rule", "color": "#111", "strokeWidth": 2.4}, "encoding": {"y": {"field": "h", "type": "quantitative", "scale": {"domain": [-3.3, 98.7]}, "axis": null}}},
   {"data": {"name": "arrows"}, "transform": [{"filter": "datum.t == 'prefrontal'"}], "mark": {"type": "rule", "strokeWidth": 1.6}, "encoding": {"x": {"field": "r", "type": "quantitative", "scale": {"type": "pow", "exponent": 1.3, "domain": [73.5, 124.8]}, "axis": null}, "y": {"field": "top", "type": "quantitative", "scale": {"domain": [-3.3, 98.7]}, "axis": null}, "y2": {"field": "end"}, "color": {"field": "kind", "type": "nominal", "scale": {"domain": ["observed", "predicted"], "range": ["#000000", "#999999"]}, "legend": null}}},
   {"data": {"name": "arrows"}, "transform": [{"filter": "datum.t == 'prefrontal'"}], "mark": {"type": "point", "shape": "triangle-down", "filled": true, "opacity": 1, "size": 75}, "encoding": {"x": {"field": "r", "type": "quantitative", "scale": {"type": "pow", "exponent": 1.3, "domain": [73.5, 124.8]}, "axis": null}, "y": {"field": "head", "type": "quantitative", "scale": {"domain": [-3.3, 98.7]}, "axis": null}, "color": {"field": "kind", "type": "nominal", "scale": {"domain": ["observed", "predicted"], "range": ["#000000", "#999999"]}, "legend": null}}},
   {"data": {"name": "arrows"}, "transform": [{"filter": "datum.t == 'prefrontal'"}], "mark": {"type": "text", "align": "center", "baseline": "alphabetic", "fontSize": 15.5}, "encoding": {"x": {"field": "r", "type": "quantitative", "scale": {"type": "pow", "exponent": 1.3, "domain": [73.5, 124.8]}, "axis": null}, "y": {"field": "ty", "type": "quantitative", "scale": {"domain": [-3.3, 98.7]}, "axis": null}, "text": {"field": "txt"}, "color": {"field": "kind", "type": "nominal", "scale": {"domain": ["observed", "predicted"], "range": ["#000000", "#999999"]}, "legend": null}}}
  ]}
 ]}
]
}
